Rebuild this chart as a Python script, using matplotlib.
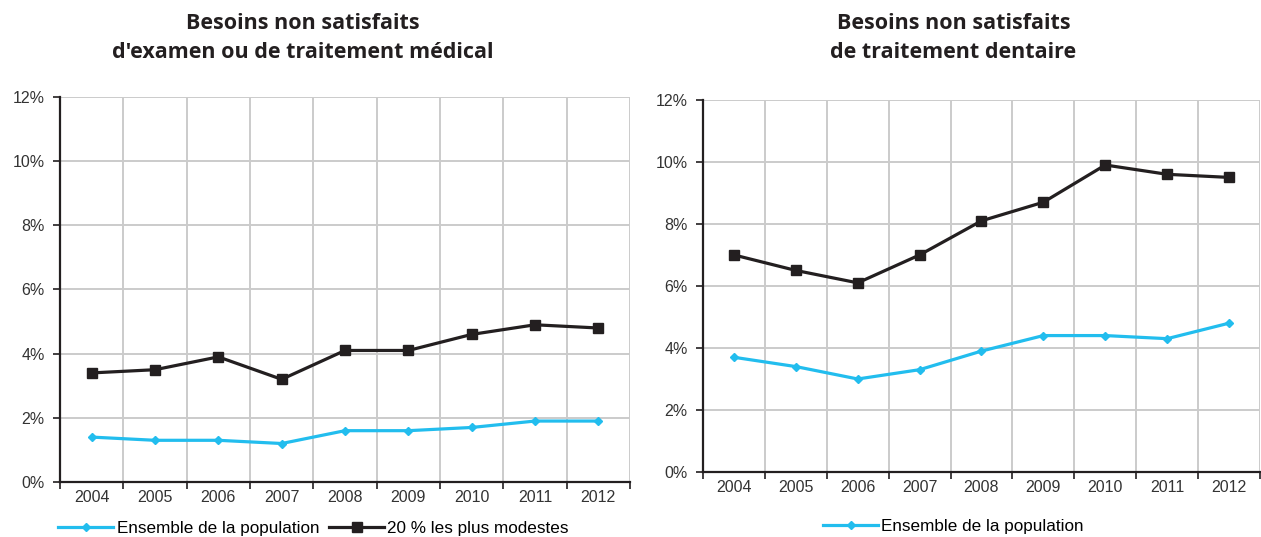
import matplotlib.pyplot as plt
from matplotlib.ticker import FixedLocator, FuncFormatter

years = [2004, 2005, 2006, 2007, 2008, 2009, 2010, 2011, 2012]

# besoins non satisfaits d'examen ou de traitement medical (%)
med_ensemble = [1.4, 1.3, 1.3, 1.2, 1.6, 1.6, 1.7, 1.9, 1.9]
med_modestes = [3.4, 3.5, 3.9, 3.2, 4.1, 4.1, 4.6, 4.9, 4.8]

# besoins non satisfaits de traitement dentaire (%)
dent_ensemble = [3.7, 3.4, 3.0, 3.3, 3.9, 4.4, 4.4, 4.3, 4.8]
dent_modestes = [7.0, 6.5, 6.1, 7.0, 8.1, 8.7, 9.9, 9.6, 9.5]

titles = ["Besoins non satisfaits\nd'examen ou de traitement médical",
          "Besoins non satisfaits\nde traitement dentaire"]
label_ens = "Ensemble de la population"
label_mod = "20 % les plus modestes"

CYAN = "#22bdee"
DARK = "#231f20"
GRID = "#cbcbcb"

plt.rcParams["font.family"] = ["Liberation Sans", "DejaVu Sans"]

fig = plt.figure(figsize=(12.61, 5.37), dpi=100)
ax1 = fig.add_axes([0.0476, 0.1024, 0.452, 0.717])
ax2 = fig.add_axes([0.5575, 0.121, 0.4417, 0.693])


def style(ax):
    n = len(years)
    x = list(range(n))
    ax.set_xlim(-0.5, n - 0.5)
    ax.set_ylim(0, 12)
    ax.set_xticks(x)
    ax.set_xticklabels([str(y) for y in years], fontsize=11.5, color="#333333")
    ax.xaxis.set_minor_locator(FixedLocator([i - 0.5 for i in range(n + 1)]))
    ax.tick_params(axis="x", which="major", length=0, pad=6)
    ax.tick_params(axis="x", which="minor", length=5, width=1.2, color=DARK, direction="out")
    ax.set_yticks(range(0, 13, 2))
    ax.yaxis.set_major_formatter(FuncFormatter(lambda v, p: "%d%%" % v))
    ax.tick_params(axis="y", length=5, width=1.2, color=DARK, labelsize=11.5,
                   labelcolor="#333333", pad=6)
    ax.grid(True, which="minor", axis="x", color=GRID, linewidth=1.4)
    ax.grid(True, which="major", axis="y", color=GRID, linewidth=1.4)
    ax.set_axisbelow(True)
    for s in ["top", "right"]:
        ax.spines[s].set_visible(False)
    for s in ["left", "bottom"]:
        ax.spines[s].set_color(DARK)
        ax.spines[s].set_linewidth(1.6)
    return x


x = style(ax1)
ax1.plot(x, med_ensemble, color=CYAN, lw=2.3, marker="D", ms=4, label=label_ens, clip_on=False)
ax1.plot(x, med_modestes, color=DARK, lw=2.3, marker="s", ms=7, label=label_mod, clip_on=False)
ax1.legend(loc="upper center", bbox_to_anchor=(0.445, -0.07), ncol=2, frameon=False,
           fontsize=12.3, handlelength=3.2, handletextpad=0.2, columnspacing=0.6,
           borderpad=0.2)

x = style(ax2)
ax2.plot(x, dent_ensemble, color=CYAN, lw=2.3, marker="D", ms=4, label=label_ens, clip_on=False)
ax2.plot(x, dent_modestes, color=DARK, lw=2.3, marker="s", ms=7, clip_on=False)
ax2.legend(loc="upper center", bbox_to_anchor=(0.45, -0.095), frameon=False,
           fontsize=12.3, handlelength=3.2, handletextpad=0.2, borderpad=0.2)

fig.text(0.240, 0.975, titles[0], ha="center", va="top", fontsize=15.5, fontweight="bold",
         color=DARK, linespacing=1.45, family=["Open Sans", "DejaVu Sans"])
fig.text(0.756, 0.975, titles[1], ha="center", va="top", fontsize=15.5, fontweight="bold",
         color=DARK, linespacing=1.45, family=["Open Sans", "DejaVu Sans"])

fig.savefig("out.png", dpi=100)
